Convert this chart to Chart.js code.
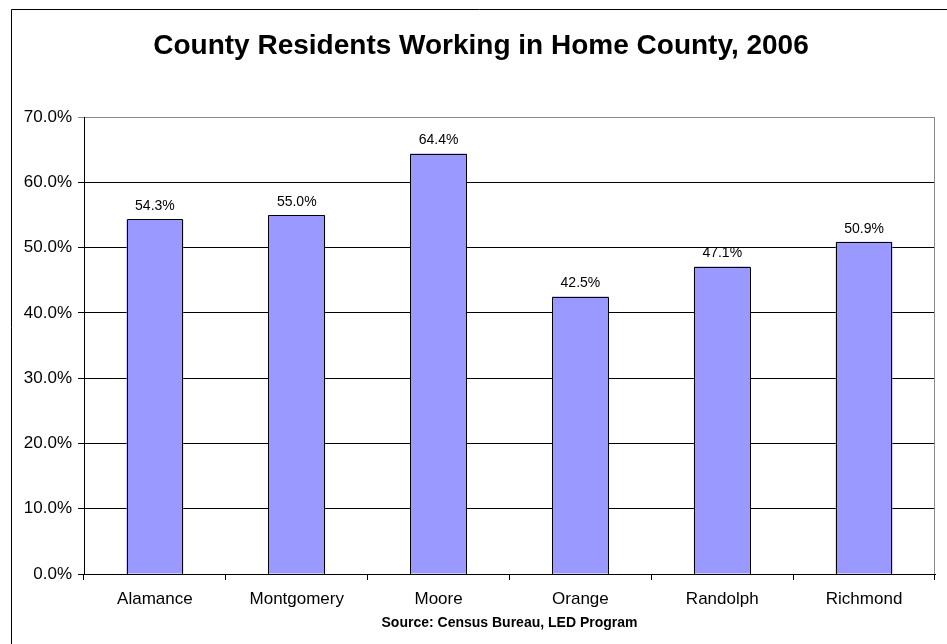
<!DOCTYPE html>
<html>
<head>
<meta charset="utf-8">
<script src="https://cdn.jsdelivr.net/npm/chart.js@4/dist/chart.umd.min.js"></script>
<style>
  html, body { margin: 0; padding: 0; background: #fff; }
  #wrap { width: 947px; height: 644px; }
</style>
</head>
<body>
<div id="wrap"><canvas id="c" width="947" height="644"></canvas></div>
<script>
// Share of county residents who work in their home county, 2006
const counties = ['Alamance', 'Montgomery', 'Moore', 'Orange', 'Randolph', 'Richmond'];
const shareInHome = [54.3, 55.0, 64.4, 42.5, 47.1, 50.9];
const yMin = 0;
const yMax = 70;
const yStep = 10;
const chartTitle = 'County Residents Working in Home County, 2006';
const sourceNote = 'Source: Census Bureau, LED Program';

const FONT = 'Arial, "Liberation Sans", sans-serif';

// Page frame, title and source note
const framePlugin = {
  id: 'frame',
  beforeDraw(chart) {
    const ctx = chart.ctx;
    ctx.save();
    ctx.fillStyle = '#fff';
    ctx.fillRect(0, 0, chart.width, chart.height);
    ctx.strokeStyle = '#000';
    ctx.lineWidth = 1;
    ctx.beginPath();
    ctx.moveTo(11.5, chart.height + 1);
    ctx.lineTo(11.5, 9.5);
    ctx.lineTo(chart.width + 1, 9.5);
    ctx.stroke();

    ctx.fillStyle = '#000';
    ctx.textAlign = 'center';
    ctx.textBaseline = 'alphabetic';
    ctx.font = 'bold 28px ' + FONT;
    ctx.fillText(chartTitle, 481, 54);

    const a = chart.chartArea;
    ctx.font = 'bold 14px ' + FONT;
    ctx.fillText(sourceNote, (a.left + a.right) / 2, 627);
    ctx.restore();
  },
  afterDraw(chart) {
    const ctx = chart.ctx;
    const a = chart.chartArea;
    ctx.save();
    ctx.strokeStyle = '#8c8c8c';
    ctx.lineWidth = 1;
    ctx.beginPath();
    const r = Math.round(a.right) - 0.5;
    ctx.moveTo(r, Math.round(a.top) + 0.5);
    ctx.lineTo(r, Math.round(a.bottom));
    ctx.stroke();
    ctx.restore();
  }
};

// Crisp bar outlines and value labels above each bar
const barDecor = {
  id: 'barDecor',
  afterDatasetsDraw(chart) {
    const ctx = chart.ctx;
    const meta = chart.getDatasetMeta(0);
    ctx.save();
    ctx.strokeStyle = '#000';
    ctx.lineWidth = 1;
    meta.data.forEach((bar) => {
      const half = bar.width / 2;
      const l = Math.round(bar.x - half) + 0.5;
      const r = Math.round(bar.x + half) - 0.5;
      const t = Math.round(bar.y) + 0.5;
      const b = Math.round(bar.base);
      ctx.beginPath();
      ctx.moveTo(l, b);
      ctx.lineTo(l, t);
      ctx.lineTo(r, t);
      ctx.lineTo(r, b);
      ctx.stroke();
    });
    ctx.fillStyle = '#000';
    ctx.font = '14px ' + FONT;
    ctx.textAlign = 'center';
    ctx.textBaseline = 'middle';
    meta.data.forEach((bar, i) => {
      ctx.fillText(shareInHome[i].toFixed(1) + '%', bar.x, bar.y - 13);
    });
    ctx.restore();
  }
};

new Chart(document.getElementById('c'), {
  type: 'bar',
  data: {
    labels: counties,
    datasets: [{
      data: shareInHome,
      backgroundColor: '#9999ff',
      borderWidth: 0,
      barPercentage: 0.8,
      categoryPercentage: 0.5
    }]
  },
  options: {
    responsive: false,
    animation: false,
    events: [],
    layout: { padding: { left: 0, top: 117, right: 12, bottom: 0 } },
    plugins: {
      legend: { display: false },
      title: { display: false },
      tooltip: { enabled: false }
    },
    scales: {
      x: {
        grid: {
          offset: true,
          drawOnChartArea: false,
          drawTicks: true,
          tickLength: 6,
          color: '#000'
        },
        border: { color: '#000', width: 1 },
        ticks: {
          color: '#000',
          font: { family: FONT, size: 17 },
          padding: 9,
          maxRotation: 0,
          autoSkip: false
        },
        afterFit(scale) { scale.height = 70; }
      },
      y: {
        min: yMin,
        max: yMax,
        grid: {
          color: (c) => (c.tick && c.tick.value === yMax ? '#8c8c8c' : '#000'),
          tickLength: 6,
          lineWidth: 1
        },
        border: { color: '#000', width: 1 },
        ticks: {
          stepSize: yStep,
          color: '#000',
          font: { family: FONT, size: 17 },
          padding: 6,
          callback: (v) => Number(v).toFixed(1) + '%'
        },
        afterFit(scale) { scale.width = 84; }
      }
    }
  },
  plugins: [framePlugin, barDecor]
});
</script>
</body>
</html>
